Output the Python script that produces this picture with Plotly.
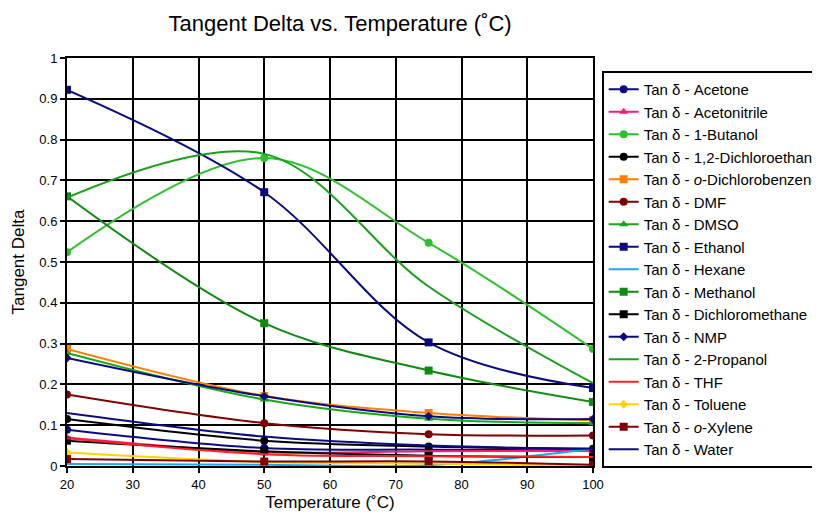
import plotly.graph_objects as go

temps = [20, 50, 75, 100]

solvents = ["Acetone", "Acetonitrile", "1-Butanol", "1,2-Dichloroethane",
            "<i>o</i>-Dichlorobenzene", "DMF", "DMSO", "Ethanol", "Hexane",
            "Methanol", "Dichloromethane", "NMP", "2-Propanol", "THF",
            "Toluene", "<i>o</i>-Xylene", "Water"]

acetone = [0.089, 0.044, 0.040, 0.038]
acetonitrile = [0.070, 0.034, 0.036, 0.037]
butanol = [0.524, 0.755, 0.547, 0.287]
dichloroethane = [0.115, 0.062, 0.048, 0.042]
dichlorobenzene = [0.287, 0.172, 0.130, 0.112]
dmf = [0.175, 0.105, 0.078, 0.075]
dmso = [0.277, 0.163, 0.116, 0.105]
ethanol = [0.922, 0.671, 0.303, 0.191]
hexane = [0.005, 0.003, 0.002, 0.042]
methanol = [0.661, 0.350, 0.234, 0.157]
dichloromethane = [0.062, 0.036, 0.025, 0.022]
nmp = [0.265, 0.171, 0.122, 0.115]
propanol = [0.658, 0.765, 0.440, 0.203]
thf = [0.068, 0.029, 0.024, 0.022]
toluene = [0.033, 0.010, 0.006, 0.000]
xylene = [0.017, 0.011, 0.011, 0.003]
water = [0.130, 0.072, 0.050, 0.042]

series = [acetone, acetonitrile, butanol, dichloroethane, dichlorobenzene, dmf,
          dmso, ethanol, hexane, methanol, dichloromethane, nmp, propanol, thf,
          toluene, xylene, water]

colors = ["#0b0b80", "#ff1a7a", "#2fbf2f", "#000000", "#ff8000", "#800000",
          "#16a816", "#0b0b80", "#1aa8f0", "#118a11", "#000000", "#0b0b80",
          "#18a018", "#ff2020", "#ffd400", "#800000", "#0b0b80"]
symbols = ["circle", "triangle-up", "circle", "circle", "square", "circle",
           "triangle-up", "square", None, "square", "square", "diamond", None,
           None, "diamond", "square", None]
msizes = [8, 8, 8, 8, 8, 8, 8, 8, 0, 8, 8, 7, 0, 0, 7, 8, 0]

fig = go.Figure()
for name, vals, c, s, ms in zip(solvents, series, colors, symbols, msizes):
    if s is None:
        fig.add_trace(go.Scatter(x=temps, y=vals, mode="lines",
                                 name="Tan \u03b4 - " + name, legendgroup=name,
                                 line=dict(color=c, width=2, shape="spline", smoothing=1)))
    else:
        fig.add_trace(go.Scatter(x=temps, y=vals, mode="lines+markers",
                                 name="Tan \u03b4 - " + name, legendgroup=name,
                                 line=dict(color=c, width=2, shape="spline", smoothing=1),
                                 marker=dict(symbol=s, size=ms, color=c)))

font_family = "Arial, Liberation Sans, sans-serif"
fig.update_layout(
    width=820, height=514,
    margin=dict(l=59, r=235, t=50, b=56),
    paper_bgcolor="white", plot_bgcolor="white",
    font=dict(family=font_family, color="black"),
    title=dict(text="Tangent Delta vs. Temperature (\u02daC)", x=0.405, xanchor="center",
               y=0.971, yanchor="middle", font=dict(size=22, family=font_family, color="black")),
    showlegend=True,
    legend=dict(xref="container", yref="container", x=0.724, xanchor="left",
                y=0.8774, yanchor="top", maxheight=1,
                bordercolor="black", borderwidth=2, bgcolor="white",
                font=dict(size=15, family=font_family, color="black"),
                tracegroupgap=0, itemwidth=30),
)
fig.update_xaxes(range=[20, 100], dtick=10, tick0=20, showgrid=True, gridcolor="black",
                 gridwidth=2, showline=True, linecolor="black", linewidth=2, mirror=True,
                 ticks="outside", ticklen=5, tickcolor="black", tickwidth=2,
                 tickfont=dict(size=13, family=font_family, color="black"),
                 title=dict(text="Temperature (\u02daC)", standoff=6,
                            font=dict(size=17, family=font_family, color="black")),
                 zeroline=False, automargin=False)
fig.update_yaxes(range=[0, 1], dtick=0.1, tick0=0, showgrid=True, gridcolor="black",
                 gridwidth=2, showline=True, linecolor="black", linewidth=2, mirror=True,
                 ticks="outside", ticklen=5, tickcolor="black", tickwidth=2,
                 tickformat="~g",
                 tickfont=dict(size=13, family=font_family, color="black"),
                 title=dict(text="Tangent Delta", standoff=10,
                            font=dict(size=17, family=font_family, color="black")),
                 zeroline=False, automargin=False)

fig.write_html("out.html")
